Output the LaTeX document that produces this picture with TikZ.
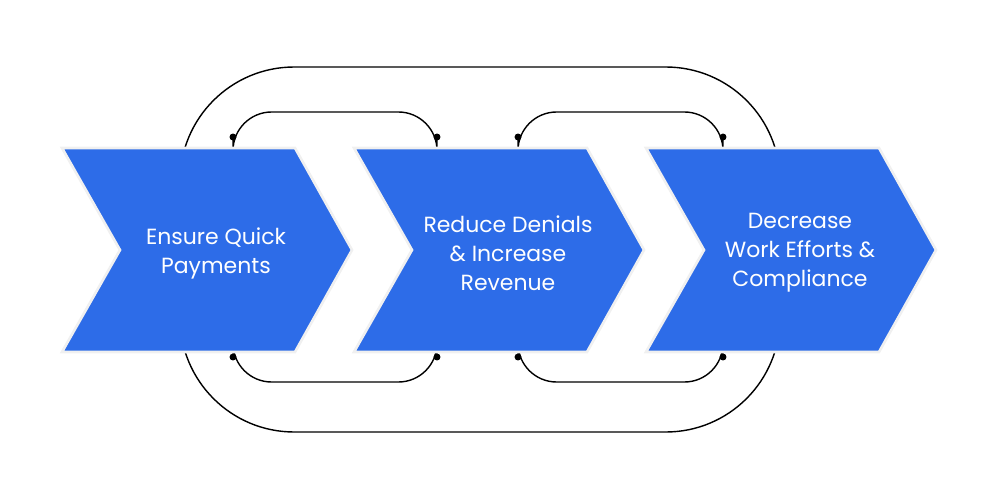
\documentclass[tikz,border=0pt]{standalone}
\usepackage{fontspec}
\setmainfont{Poppins}
\usetikzlibrary{positioning, calc}
\definecolor{chevblue}{HTML}{2D6CE8}
\tikzset{%
  chevron/.style = {fill = chevblue, draw = black!6, line width = 1.5pt},
  label/.style   = {text = white, align = center, font = \fontsize{12.5}{16.5}\selectfont},
  loop/.style    = {draw, line width = 0.8pt},
  dot/.style     = {circle, fill, inner sep = 1.4pt}
}
\begin{document}
\begin{tikzpicture}[x = 0.02cm, y = -0.02cm]
\useasboundingbox (0,0) rectangle (1000,500);
%outer loop
\draw[loop, rounded corners = 65] (180,150) -- (180,67) -- (780,67) -- (780,432) -- (180,432) -- (180,350);
%small links
\foreach \a/\b in {233/437, 518/723} {
  \node[dot] (ta\a) at (\a,137) {};
  \node[dot] (tb\a) at (\b,137) {};
  \node[dot] (ba\a) at (\a,357) {};
  \node[dot] (bb\a) at (\b,357) {};
  \draw[loop, rounded corners = 22] (ta\a.center) -- (\a,112) -- (\b,112) -- (tb\a.center);
  \draw[loop, rounded corners = 22] (ba\a.center) -- (\a,382) -- (\b,382) -- (bb\a.center);
}
%chevrons
\foreach \k/\txt in {0/{Ensure Quick\\Payments}, 1/{Reduce Denials\\\& Increase\\Revenue}, 2/{Decrease\\Work Efforts \&\\Compliance}} {
  \begin{scope}[xshift = \k*292*0.02cm]
    \draw[chevron] (62,148) -- (295,148) -- (352,250) -- (295,352) -- (62,352) -- (120,250) -- cycle;
    \node[label] (step\k) at (216,253) {\txt};
  \end{scope}
}
\end{tikzpicture}
\end{document}
